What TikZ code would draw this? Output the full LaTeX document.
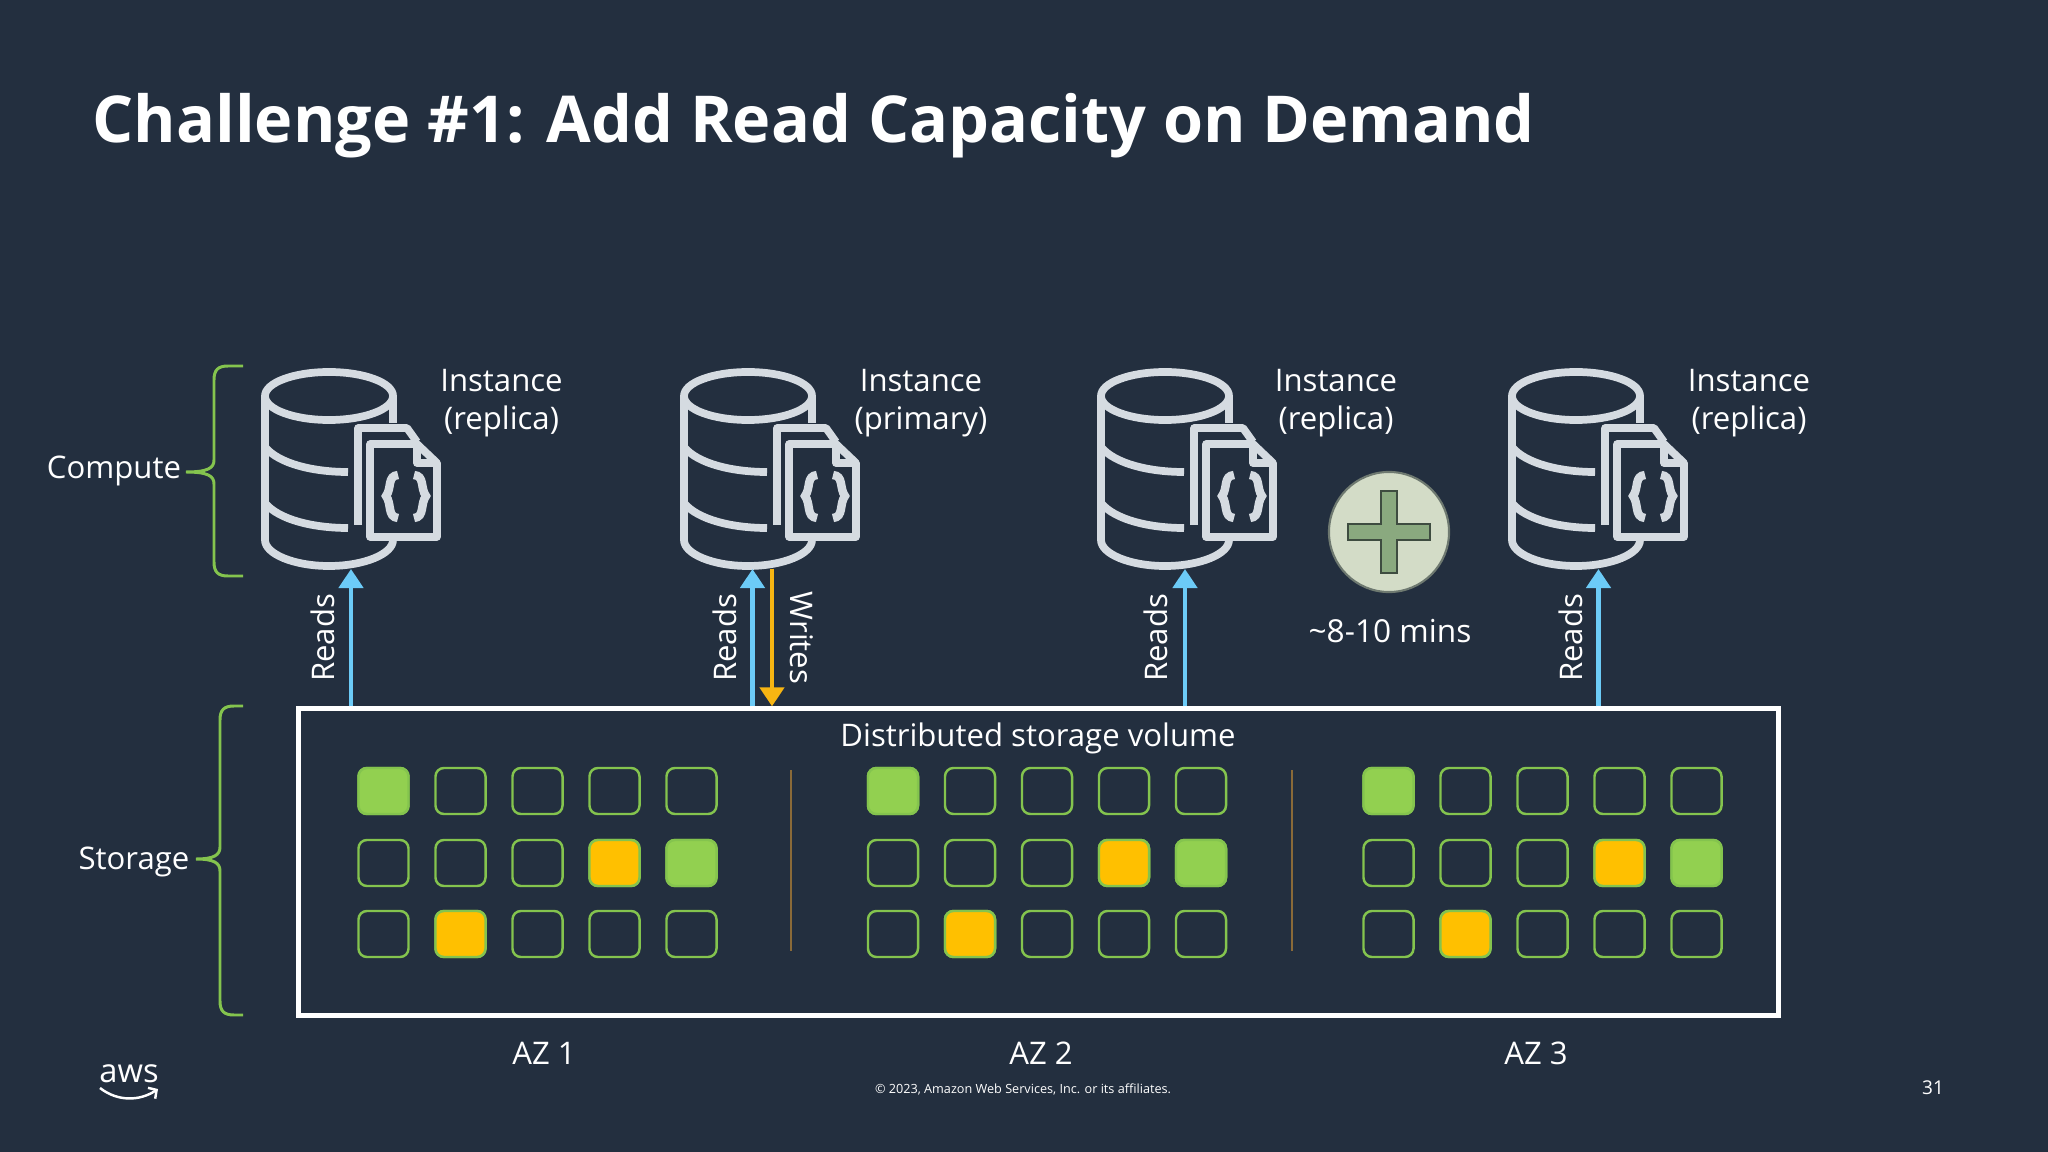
\documentclass[tikz,border=0pt]{standalone}
\usepackage{fontspec}
\setmainfont{Open Sans}
\usetikzlibrary{arrows.meta}
\definecolor{slidebg}{HTML}{232F3F}
\definecolor{iconline}{HTML}{D5DBE1}
\definecolor{readblue}{HTML}{6CCBF7}
\definecolor{writeamber}{HTML}{F7B512}
\definecolor{bracegreen}{HTML}{84C44E}
\definecolor{cellgreen}{HTML}{92D050}
\definecolor{cellamber}{HTML}{FFC000}
\definecolor{plusdisc}{HTML}{D3DCC7}
\definecolor{plusarm}{HTML}{8AA97F}
\definecolor{plusedge}{HTML}{3E4C40}
\definecolor{azrule}{HTML}{8A6A38}
\newcommand{\labelfont}{\fontsize{8.85}{10.6}\selectfont}
% #1 spine x, #2 top y, #3 tip x, #4 tip y, #5 bottom y
\newcommand{\sidebrace}[5]{\draw[bracegreen,line width=0.85pt] (243,#2) -- ({#1+14},#2) .. controls ({#1+4},#2) and (#1,{#2+4}) .. (#1,{#2+14}) -- (#1,{#4-12}) .. controls (#1,{#4-4}) and ({#1-6},#4) .. (#3,#4) .. controls ({#1-6},#4) and (#1,{#4+4}) .. (#1,{#4+12}) -- (#1,{#5-14}) .. controls (#1,{#5-4}) and ({#1+4},#5) .. ({#1+14},#5) -- (243,#5);}
\tikzset{
  icon/.style={iconline,line width=2.2pt},
  dbicon/.pic={
    \draw[icon] (0,0) ellipse [x radius=64,y radius=24];
    \draw[icon] (-64,0) -- (-64,144) .. controls (-64,158) and (-35,170) .. (0,170) .. controls (35,170) and (64,158) .. (64,144);
    \draw[icon] (64,0) -- (64,27);
    \draw[icon] (-64,51) .. controls (-50,68) and (-15,76) .. (19,76);
    \draw[icon] (-64,107) .. controls (-50,124) and (-15,132) .. (19,132);
    \draw[icon,line join=round] (29,129) -- (29,32) -- (78,32) -- (88,46);
    \draw[icon,line join=round] (41,48) -- (88,48) -- (108,67) -- (108,141) -- (41,141) -- cycle;
    \draw[icon,line join=round] (88,48) -- (88,67) -- (108,67);
    \draw[iconline,line width=2.4pt] (69,79) .. controls (58,80) and (63,92) .. (57,100) .. controls (63,108) and (58,121) .. (69,122);
    \draw[iconline,line width=2.4pt] (85,79) .. controls (96,80) and (91,92) .. (97,100) .. controls (91,108) and (96,121) .. (85,122);
    \coordinate (-bottom) at (0,173);
  },
  lbl/.style={text=white,font=\labelfont,align=center},
  cell/.style={draw=bracegreen,line width=0.7pt,rounded corners=2.4pt,minimum width=0.5cm,minimum height=0.46cm,inner sep=0pt},
  readarrow/.style={readblue,line width=1.3pt,-{Triangle[length=1.9mm,width=2.4mm]}},
  writearrow/.style={writeamber,line width=1.3pt,-{Triangle[length=1.9mm,width=2.4mm]}},
}
\begin{document}
\begin{tikzpicture}[x=0.01cm,y=-0.01cm]
\fill[slidebg] (0,0) rectangle (2048,1152);
\useasboundingbox (0,0) rectangle (2048,1152);
\node[anchor=base west,inner sep=0pt,text=white,font=\fontsize{18.4}{22}\selectfont\bfseries] (title) at (92,143) {Challenge \#1: Add Read Capacity on Demand};
% compute row
\foreach \n/\x/\tx/\txt in {1/329/501.5/replica,2/748/921/primary,3/1165/1336/replica,4/1576/1749/replica} {
  \pic (db\n) at (\x,396) {dbicon};
  \node[lbl] (inst\n) at (\tx,403) {Instance\\(\txt)};
}
\node[lbl] (compute) at (114,471) {Compute};
\sidebrace{214}{366}{186}{472}{576}
\node[lbl] (storage) at (134,862) {Storage};
\sidebrace{220}{706}{196}{859}{1015}
% storage volume
\node[draw=white,line width=1.45pt,minimum width=14.8cm,minimum height=3.06cm,inner sep=0pt] (vol) at (1038.5,862) {};
\node[lbl] (voltitle) at (1038,738) {Distributed storage volume};
\foreach \az/\x in {1/383.5,2/893,3/1388.5} {
  \foreach \c in {0,...,4} {
    \foreach \r/\y in {0/791,1/863,2/934} {
      \node[cell] (cell\az\r\c) at ({\x+77*\c},\y) {};
    }
  }
  \node[cell,fill=cellgreen] at (cell\az00) {};
  \node[cell,fill=cellamber] at (cell\az13) {};
  \node[cell,fill=cellgreen] at (cell\az14) {};
  \node[cell,fill=cellamber] at (cell\az21) {};
}
\coordinate (sep1top) at (791,770);
\coordinate (sep1bot) at (791,951);
\coordinate (sep2top) at (1292,770);
\coordinate (sep2bot) at (1292,951);
\draw[azrule,line width=0.4pt] (sep1top) -- (sep1bot);
\draw[azrule,line width=0.4pt] (sep2top) -- (sep2bot);
\node[lbl] (az1) at (544,1053) {AZ 1};
\node[lbl] (az2) at (1041,1053) {AZ 2};
\node[lbl] (az3) at (1536,1053) {AZ 3};
% reads and writes
\coordinate (read1) at (351,569);
\coordinate (read2) at (752.5,569);
\coordinate (read3) at (1185,569);
\coordinate (read4) at (1598.5,569);
\coordinate (write2) at (772,569);
\foreach \n in {1,2,3,4} {\draw[readarrow] (vol.north -| read\n) -- (read\n);}
\draw[writearrow] (write2) -- (vol.north -| write2);
\foreach \n/\x in {1/323,2/725,3/1156,4/1571} {\node[lbl,rotate=90] (reads\n) at (\x,638) {Reads};}
\node[lbl,rotate=-90] (writes) at (802,638) {Writes};
% new instance
\node[circle,draw=plusedge!75,fill=plusdisc,line width=0.6pt,minimum size=1.2cm,inner sep=0pt] (plus) at (1389,532) {};
\draw[draw=plusedge,fill=plusarm,line width=0.5pt] (1381,491) -- (1397,491) -- (1397,524) -- (1430,524) -- (1430,540) -- (1397,540) -- (1397,573) -- (1381,573) -- (1381,540) -- (1348,540) -- (1348,524) -- (1381,524) -- cycle;
\node[lbl,font=\fontsize{9}{11}\selectfont] (mins) at (1390,631) {\textasciitilde 8-10 mins};
% footer
\node[text=white,font=\fontsize{9.3}{11}\selectfont,inner sep=0pt] (awstext) at (129,1074) {aws};
\coordinate (smilel) at (100,1088);
\coordinate (smiler) at (158,1089);
\draw[white,line width=0.7pt,-{Straight Barb[length=0.6mm,width=1.3mm]}] (smilel) .. controls (118,1102) and (140,1101) .. (smiler);
\node[text=white,font=\fontsize{3.6}{5}\selectfont,inner sep=0pt] (copyright) at (1023,1089) {© 2023, Amazon Web Services, Inc. or its affiliates.};
\node[text=white,font=\fontsize{5.4}{7}\selectfont,inner sep=0pt] (pagenum) at (1933,1088) {31};
\end{tikzpicture}
\end{document}
